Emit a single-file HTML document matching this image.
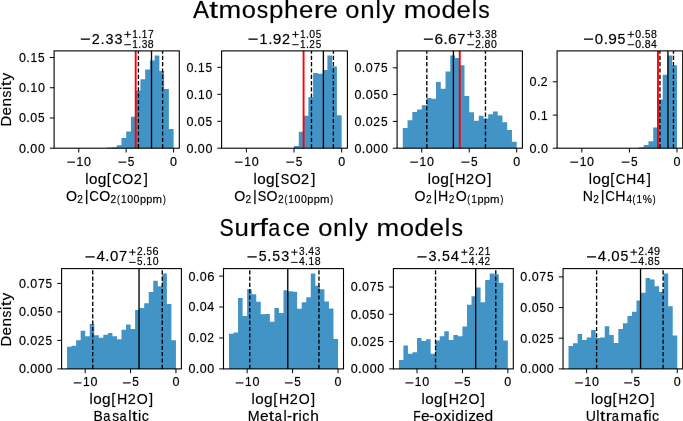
<!DOCTYPE html>
<html><head><meta charset="utf-8"><style>
html,body{margin:0;padding:0;background:#fff;}
svg{display:block;will-change:transform;}
text{font-family:"Liberation Sans",sans-serif;font-kerning:none;}
text,.g{fill:#000;stroke:#000;stroke-width:0.45px;stroke-opacity:0.4;}
</style></head><body>
<svg width="683" height="421" viewBox="0 0 683 421">
<rect width="683" height="421" fill="#fff"/>
<path d="M107.22 148.2L107.22 147.45L111.96 147.45L111.96 147.25L116.7 147.25L116.7 145.2L121.44 145.2L121.44 138L126.18 138L126.18 131.6L130.93 131.6L130.93 116.7L135.67 116.7L135.67 90.7L140.41 90.7L140.41 79.3L145.15 79.3L145.15 69.4L149.9 69.4L149.9 60.5L154.64 60.5L154.64 55.5L159.38 55.5L159.38 71.1L164.12 71.1L164.12 88.95L168.87 88.95L168.87 129L173.61 129L173.61 148.2Z" fill="#4394c6"/>
<line x1="135.67" y1="148.2" x2="135.67" y2="50.9" stroke="#ff0000" stroke-width="1.9"/>
<line x1="138.42" y1="148.2" x2="138.42" y2="50.9" stroke="#000" stroke-width="1.35" stroke-dasharray="4.2 2.1"/>
<line x1="151.51" y1="148.2" x2="151.51" y2="50.9" stroke="#000" stroke-width="1.35"/>
<line x1="162.61" y1="148.2" x2="162.61" y2="50.9" stroke="#000" stroke-width="1.35" stroke-dasharray="4.2 2.1"/>
<rect x="54.1" y="50.9" width="125.2" height="97.3" fill="none" stroke="#000" stroke-width="1.1"/>
<line x1="78.76" y1="148.2" x2="78.76" y2="152.5" stroke="#000" stroke-width="1.0"/>
<line x1="126.18" y1="148.2" x2="126.18" y2="152.5" stroke="#000" stroke-width="1.0"/>
<line x1="173.61" y1="148.2" x2="173.61" y2="152.5" stroke="#000" stroke-width="1.0"/>
<line x1="49.8" y1="148.2" x2="54.1" y2="148.2" stroke="#000" stroke-width="1.0"/>
<line x1="49.8" y1="117.97" x2="54.1" y2="117.97" stroke="#000" stroke-width="1.0"/>
<line x1="49.8" y1="87.74" x2="54.1" y2="87.74" stroke="#000" stroke-width="1.0"/>
<line x1="49.8" y1="57.5" x2="54.1" y2="57.5" stroke="#000" stroke-width="1.0"/>
<path d="M294.03 148.2L294.03 146.1L298.8 146.1L298.8 131.8L303.56 131.8L303.56 115.7L308.33 115.7L308.33 97.3L313.09 97.3L313.09 72.9L317.86 72.9L317.86 73.75L322.62 73.75L322.62 70L327.39 70L327.39 55.6L332.15 55.6L332.15 66.4L336.92 66.4L336.92 115.2L341.68 115.2L341.68 148.2Z" fill="#4394c6"/>
<line x1="303.56" y1="148.2" x2="303.56" y2="50.9" stroke="#ff0000" stroke-width="1.9"/>
<line x1="311.47" y1="148.2" x2="311.47" y2="50.9" stroke="#000" stroke-width="1.35" stroke-dasharray="4.2 2.1"/>
<line x1="323.38" y1="148.2" x2="323.38" y2="50.9" stroke="#000" stroke-width="1.35"/>
<line x1="333.39" y1="148.2" x2="333.39" y2="50.9" stroke="#000" stroke-width="1.35" stroke-dasharray="4.2 2.1"/>
<rect x="221.6" y="50.9" width="125.8" height="97.3" fill="none" stroke="#000" stroke-width="1.1"/>
<line x1="246.38" y1="148.2" x2="246.38" y2="152.5" stroke="#000" stroke-width="1.0"/>
<line x1="294.03" y1="148.2" x2="294.03" y2="152.5" stroke="#000" stroke-width="1.0"/>
<line x1="341.68" y1="148.2" x2="341.68" y2="152.5" stroke="#000" stroke-width="1.0"/>
<line x1="217.3" y1="148.2" x2="221.6" y2="148.2" stroke="#000" stroke-width="1.0"/>
<line x1="217.3" y1="121.3" x2="221.6" y2="121.3" stroke="#000" stroke-width="1.0"/>
<line x1="217.3" y1="94.3" x2="221.6" y2="94.3" stroke="#000" stroke-width="1.0"/>
<line x1="217.3" y1="67.3" x2="221.6" y2="67.3" stroke="#000" stroke-width="1.0"/>
<path d="M402.8 148.2L402.8 127.9L407.54 127.9L407.54 120.2L412.29 120.2L412.29 111.9L417.03 111.9L417.03 109.5L421.78 109.5L421.78 105.3L426.53 105.3L426.53 98.1L431.27 98.1L431.27 98.7L436.02 98.7L436.02 82.1L440.77 82.1L440.77 88.8L445.51 88.8L445.51 71.6L450.26 71.6L450.26 55.6L455 55.6L455 58.1L459.75 58.1L459.75 65.2L464.5 65.2L464.5 96.1L469.24 96.1L469.24 112.2L473.99 112.2L473.99 120.8L478.73 120.8L478.73 115.8L483.48 115.8L483.48 118.6L488.23 118.6L488.23 114.25L492.97 114.25L492.97 111.5L497.72 111.5L497.72 115.4L502.47 115.4L502.47 122.3L507.21 122.3L507.21 130L511.96 130L511.96 141.8L516.7 141.8L516.7 148.2Z" fill="#4394c6"/>
<line x1="459.75" y1="148.2" x2="459.75" y2="50.9" stroke="#ff0000" stroke-width="1.9"/>
<line x1="426.81" y1="148.2" x2="426.81" y2="50.9" stroke="#000" stroke-width="1.35" stroke-dasharray="4.2 2.1"/>
<line x1="453.39" y1="148.2" x2="453.39" y2="50.9" stroke="#000" stroke-width="1.35"/>
<line x1="485.47" y1="148.2" x2="485.47" y2="50.9" stroke="#000" stroke-width="1.35" stroke-dasharray="4.2 2.1"/>
<rect x="397.1" y="50.9" width="125.3" height="97.3" fill="none" stroke="#000" stroke-width="1.1"/>
<line x1="421.78" y1="148.2" x2="421.78" y2="152.5" stroke="#000" stroke-width="1.0"/>
<line x1="469.24" y1="148.2" x2="469.24" y2="152.5" stroke="#000" stroke-width="1.0"/>
<line x1="516.7" y1="148.2" x2="516.7" y2="152.5" stroke="#000" stroke-width="1.0"/>
<line x1="392.8" y1="148.2" x2="397.1" y2="148.2" stroke="#000" stroke-width="1.0"/>
<line x1="392.8" y1="121.4" x2="397.1" y2="121.4" stroke="#000" stroke-width="1.0"/>
<line x1="392.8" y1="94.6" x2="397.1" y2="94.6" stroke="#000" stroke-width="1.0"/>
<line x1="392.8" y1="67.8" x2="397.1" y2="67.8" stroke="#000" stroke-width="1.0"/>
<path d="M638.93 148.2L638.93 147.3L643.69 147.3L643.69 145.1L648.45 145.1L648.45 141.2L653.2 141.2L653.2 127.6L657.96 127.6L657.96 99.5L662.72 99.5L662.72 74.7L667.48 74.7L667.48 55.6L672.23 55.6L672.23 65.2L676.99 65.2L676.99 148.2Z" fill="#4394c6"/>
<line x1="657.96" y1="148.2" x2="657.96" y2="50.9" stroke="#ff0000" stroke-width="1.9"/>
<line x1="659.96" y1="148.2" x2="659.96" y2="50.9" stroke="#000" stroke-width="1.35" stroke-dasharray="4.2 2.1"/>
<line x1="667.95" y1="148.2" x2="667.95" y2="50.9" stroke="#000" stroke-width="1.35"/>
<line x1="673.47" y1="148.2" x2="673.47" y2="50.9" stroke="#000" stroke-width="1.35" stroke-dasharray="4.2 2.1"/>
<rect x="557.1" y="50.9" width="125.6" height="97.3" fill="none" stroke="#000" stroke-width="1.1"/>
<line x1="581.84" y1="148.2" x2="581.84" y2="152.5" stroke="#000" stroke-width="1.0"/>
<line x1="629.42" y1="148.2" x2="629.42" y2="152.5" stroke="#000" stroke-width="1.0"/>
<line x1="676.99" y1="148.2" x2="676.99" y2="152.5" stroke="#000" stroke-width="1.0"/>
<line x1="552.8" y1="148.2" x2="557.1" y2="148.2" stroke="#000" stroke-width="1.0"/>
<line x1="552.8" y1="115.1" x2="557.1" y2="115.1" stroke="#000" stroke-width="1.0"/>
<line x1="552.8" y1="81.8" x2="557.1" y2="81.8" stroke="#000" stroke-width="1.0"/>
<path d="M67.05 368.9L67.05 346.7L71.58 346.7L71.58 345.8L76.12 345.8L76.12 340.2L80.66 340.2L80.66 330.7L85.2 330.7L85.2 336.3L89.73 336.3L89.73 323.9L94.27 323.9L94.27 335.3L98.81 335.3L98.81 337.8L103.35 337.8L103.35 334.7L107.89 334.7L107.89 333.1L112.42 333.1L112.42 336.3L116.96 336.3L116.96 339.2L121.5 339.2L121.5 329.7L126.04 329.7L126.04 324.4L130.58 324.4L130.58 328.9L135.11 328.9L135.11 310L139.65 310L139.65 308.1L144.19 308.1L144.19 303.2L148.73 303.2L148.73 292.1L153.27 292.1L153.27 280.7L157.8 280.7L157.8 286.3L162.34 286.3L162.34 273.4L166.88 273.4L166.88 304.1L171.42 304.1L171.42 340.2L175.95 340.2L175.95 368.9Z" fill="#4394c6"/>
<line x1="92.73" y1="368.9" x2="92.73" y2="268.6" stroke="#000" stroke-width="1.35" stroke-dasharray="4.2 2.1"/>
<line x1="139.02" y1="368.9" x2="139.02" y2="268.6" stroke="#000" stroke-width="1.35"/>
<line x1="162.25" y1="368.9" x2="162.25" y2="268.6" stroke="#000" stroke-width="1.35" stroke-dasharray="4.2 2.1"/>
<rect x="61.6" y="268.6" width="119.8" height="100.3" fill="none" stroke="#000" stroke-width="1.1"/>
<line x1="85.2" y1="368.9" x2="85.2" y2="373.2" stroke="#000" stroke-width="1.0"/>
<line x1="130.58" y1="368.9" x2="130.58" y2="373.2" stroke="#000" stroke-width="1.0"/>
<line x1="175.95" y1="368.9" x2="175.95" y2="373.2" stroke="#000" stroke-width="1.0"/>
<line x1="57.3" y1="368.9" x2="61.6" y2="368.9" stroke="#000" stroke-width="1.0"/>
<line x1="57.3" y1="340.4" x2="61.6" y2="340.4" stroke="#000" stroke-width="1.0"/>
<line x1="57.3" y1="311.9" x2="61.6" y2="311.9" stroke="#000" stroke-width="1.0"/>
<line x1="57.3" y1="283.4" x2="61.6" y2="283.4" stroke="#000" stroke-width="1.0"/>
<path d="M228.95 368.9L228.95 333.8L233.5 333.8L233.5 332.6L238.05 332.6L238.05 297.9L242.59 297.9L242.59 315.9L247.14 315.9L247.14 289.2L251.68 289.2L251.68 294.2L256.23 294.2L256.23 301.7L260.77 301.7L260.77 314.3L265.32 314.3L265.32 313.9L269.86 313.9L269.86 321.7L274.41 321.7L274.41 308.1L278.95 308.1L278.95 313.1L283.5 313.1L283.5 290.2L288.05 290.2L288.05 291.2L292.59 291.2L292.59 291.8L297.14 291.8L297.14 308.8L301.68 308.8L301.68 302.2L306.23 302.2L306.23 297.3L310.77 297.3L310.77 273.5L315.32 273.5L315.32 285.7L319.86 285.7L319.86 289.2L324.41 289.2L324.41 301.6L328.95 301.6L328.95 308.4L333.5 308.4L333.5 339L338.05 339L338.05 368.9Z" fill="#4394c6"/>
<line x1="249.77" y1="368.9" x2="249.77" y2="268.6" stroke="#000" stroke-width="1.35" stroke-dasharray="4.2 2.1"/>
<line x1="287.77" y1="368.9" x2="287.77" y2="268.6" stroke="#000" stroke-width="1.35"/>
<line x1="318.95" y1="368.9" x2="318.95" y2="268.6" stroke="#000" stroke-width="1.35" stroke-dasharray="4.2 2.1"/>
<rect x="223.5" y="268.6" width="120" height="100.3" fill="none" stroke="#000" stroke-width="1.1"/>
<line x1="247.14" y1="368.9" x2="247.14" y2="373.2" stroke="#000" stroke-width="1.0"/>
<line x1="292.59" y1="368.9" x2="292.59" y2="373.2" stroke="#000" stroke-width="1.0"/>
<line x1="338.05" y1="368.9" x2="338.05" y2="373.2" stroke="#000" stroke-width="1.0"/>
<line x1="219.2" y1="368.9" x2="223.5" y2="368.9" stroke="#000" stroke-width="1.0"/>
<line x1="219.2" y1="337.97" x2="223.5" y2="337.97" stroke="#000" stroke-width="1.0"/>
<line x1="219.2" y1="307" x2="223.5" y2="307" stroke="#000" stroke-width="1.0"/>
<line x1="219.2" y1="276.1" x2="223.5" y2="276.1" stroke="#000" stroke-width="1.0"/>
<path d="M398.85 368.9L398.85 360L403.39 360L403.39 345.4L407.93 345.4L407.93 353.8L412.47 353.8L412.47 352.3L417.02 352.3L417.02 338L421.56 338L421.56 340.9L426.1 340.9L426.1 339.2L430.64 339.2L430.64 353.8L435.18 353.8L435.18 340.5L439.72 340.5L439.72 336.3L444.27 336.3L444.27 331.3L448.81 331.3L448.81 340L453.35 340L453.35 335L457.89 335L457.89 336.3L462.43 336.3L462.43 326.4L466.97 326.4L466.97 304.7L471.52 304.7L471.52 296.2L476.06 296.2L476.06 287.5L480.6 287.5L480.6 302.2L485.14 302.2L485.14 280L489.68 280L489.68 273.5L494.22 273.5L494.22 274.2L498.77 274.2L498.77 282.8L503.31 282.8L503.31 340.6L507.85 340.6L507.85 368.9Z" fill="#4394c6"/>
<line x1="435.55" y1="368.9" x2="435.55" y2="268.6" stroke="#000" stroke-width="1.35" stroke-dasharray="4.2 2.1"/>
<line x1="475.69" y1="368.9" x2="475.69" y2="268.6" stroke="#000" stroke-width="1.35"/>
<line x1="495.77" y1="368.9" x2="495.77" y2="268.6" stroke="#000" stroke-width="1.35" stroke-dasharray="4.2 2.1"/>
<rect x="393.4" y="268.6" width="119.9" height="100.3" fill="none" stroke="#000" stroke-width="1.1"/>
<line x1="417.02" y1="368.9" x2="417.02" y2="373.2" stroke="#000" stroke-width="1.0"/>
<line x1="462.43" y1="368.9" x2="462.43" y2="373.2" stroke="#000" stroke-width="1.0"/>
<line x1="507.85" y1="368.9" x2="507.85" y2="373.2" stroke="#000" stroke-width="1.0"/>
<line x1="389.1" y1="368.9" x2="393.4" y2="368.9" stroke="#000" stroke-width="1.0"/>
<line x1="389.1" y1="341.6" x2="393.4" y2="341.6" stroke="#000" stroke-width="1.0"/>
<line x1="389.1" y1="314.3" x2="393.4" y2="314.3" stroke="#000" stroke-width="1.0"/>
<line x1="389.1" y1="287" x2="393.4" y2="287" stroke="#000" stroke-width="1.0"/>
<path d="M568.49 368.9L568.49 346L573.02 346L573.02 343.3L577.55 343.3L577.55 334.1L582.09 334.1L582.09 340L586.62 340L586.62 337.4L591.15 337.4L591.15 330.1L595.68 330.1L595.68 338L600.21 338L600.21 337.5L604.75 337.5L604.75 326.3L609.28 326.3L609.28 334.9L613.81 334.9L613.81 343.1L618.34 343.1L618.34 329.1L622.88 329.1L622.88 323.2L627.41 323.2L627.41 315.9L631.94 315.9L631.94 311.8L636.47 311.8L636.47 300.4L641 300.4L641 292.7L645.54 292.7L645.54 277.9L650.07 277.9L650.07 279.4L654.6 279.4L654.6 286.3L659.13 286.3L659.13 292.1L663.66 292.1L663.66 273.5L668.2 273.5L668.2 306.3L672.73 306.3L672.73 335.5L677.26 335.5L677.26 368.9Z" fill="#4394c6"/>
<line x1="596.59" y1="368.9" x2="596.59" y2="268.6" stroke="#000" stroke-width="1.35" stroke-dasharray="4.2 2.1"/>
<line x1="640.55" y1="368.9" x2="640.55" y2="268.6" stroke="#000" stroke-width="1.35"/>
<line x1="663.12" y1="368.9" x2="663.12" y2="268.6" stroke="#000" stroke-width="1.35" stroke-dasharray="4.2 2.1"/>
<rect x="563.05" y="268.6" width="119.65" height="100.3" fill="none" stroke="#000" stroke-width="1.1"/>
<line x1="586.62" y1="368.9" x2="586.62" y2="373.2" stroke="#000" stroke-width="1.0"/>
<line x1="631.94" y1="368.9" x2="631.94" y2="373.2" stroke="#000" stroke-width="1.0"/>
<line x1="677.26" y1="368.9" x2="677.26" y2="373.2" stroke="#000" stroke-width="1.0"/>
<line x1="558.75" y1="368.9" x2="563.05" y2="368.9" stroke="#000" stroke-width="1.0"/>
<line x1="558.75" y1="338.2" x2="563.05" y2="338.2" stroke="#000" stroke-width="1.0"/>
<line x1="558.75" y1="307.6" x2="563.05" y2="307.6" stroke="#000" stroke-width="1.0"/>
<line x1="558.75" y1="276.9" x2="563.05" y2="276.9" stroke="#000" stroke-width="1.0"/>
<rect class="g" x="67.47" y="161.72" width="7.45" height="0.93"/>
<text x="76.57" y="165.7" font-size="11.87" textLength="6.66" lengthAdjust="spacingAndGlyphs">1</text>
<text x="84.04" y="165.7" font-size="11.87" textLength="6.98" lengthAdjust="spacingAndGlyphs">0</text>
<rect class="g" x="118.68" y="161.72" width="7.45" height="0.93"/>
<text x="127.83" y="165.7" font-size="11.87" textLength="6.59" lengthAdjust="spacingAndGlyphs">5</text>
<text x="170.12" y="165.7" font-size="11.87" textLength="6.98" lengthAdjust="spacingAndGlyphs">0</text>
<text x="19" y="152.65" font-size="11.87" textLength="6.98" lengthAdjust="spacingAndGlyphs">0</text>
<text x="26.39" y="152.65" font-size="11.87" textLength="3.55" lengthAdjust="spacingAndGlyphs">.</text>
<text x="30.35" y="152.65" font-size="11.87" textLength="6.98" lengthAdjust="spacingAndGlyphs">0</text>
<text x="37.92" y="152.65" font-size="11.87" textLength="6.98" lengthAdjust="spacingAndGlyphs">0</text>
<text x="19" y="122.42" font-size="11.87" textLength="6.98" lengthAdjust="spacingAndGlyphs">0</text>
<text x="26.39" y="122.42" font-size="11.87" textLength="3.55" lengthAdjust="spacingAndGlyphs">.</text>
<text x="30.35" y="122.42" font-size="11.87" textLength="6.98" lengthAdjust="spacingAndGlyphs">0</text>
<text x="38.07" y="122.42" font-size="11.87" textLength="6.59" lengthAdjust="spacingAndGlyphs">5</text>
<text x="19" y="92.19" font-size="11.87" textLength="6.98" lengthAdjust="spacingAndGlyphs">0</text>
<text x="26.39" y="92.19" font-size="11.87" textLength="3.55" lengthAdjust="spacingAndGlyphs">.</text>
<text x="30.46" y="92.19" font-size="11.87" textLength="6.66" lengthAdjust="spacingAndGlyphs">1</text>
<text x="37.92" y="92.19" font-size="11.87" textLength="6.98" lengthAdjust="spacingAndGlyphs">0</text>
<text x="19" y="61.95" font-size="11.87" textLength="6.98" lengthAdjust="spacingAndGlyphs">0</text>
<text x="26.39" y="61.95" font-size="11.87" textLength="3.55" lengthAdjust="spacingAndGlyphs">.</text>
<text x="30.46" y="61.95" font-size="11.87" textLength="6.66" lengthAdjust="spacingAndGlyphs">1</text>
<text x="38.07" y="61.95" font-size="11.87" textLength="6.59" lengthAdjust="spacingAndGlyphs">5</text>
<text x="85.22" y="183.75" font-size="14.31" textLength="3.25" lengthAdjust="spacingAndGlyphs">l</text>
<text x="88.97" y="183.75" font-size="14.31" textLength="8.46" lengthAdjust="spacingAndGlyphs">o</text>
<text x="97.71" y="183.75" font-size="14.31" textLength="8.64" lengthAdjust="spacingAndGlyphs">g</text>
<text x="106.82" y="183.75" font-size="14.31" textLength="4.13" lengthAdjust="spacingAndGlyphs">[</text>
<text x="112.35" y="183.75" font-size="14.31" textLength="9.59" lengthAdjust="spacingAndGlyphs">C</text>
<text x="122.35" y="183.75" font-size="14.31" textLength="10.99" lengthAdjust="spacingAndGlyphs">O</text>
<text x="133.79" y="183.75" font-size="14.31" textLength="8.08" lengthAdjust="spacingAndGlyphs">2</text>
<text x="143.84" y="183.75" font-size="14.31" textLength="4.13" lengthAdjust="spacingAndGlyphs">]</text>
<text x="65.96" y="200.5" font-size="15" textLength="10.99" lengthAdjust="spacingAndGlyphs">O</text>
<text x="77.31" y="202.5" font-size="10.5" textLength="5.65" lengthAdjust="spacingAndGlyphs">2</text>
<text x="84.82" y="200.5" font-size="15" textLength="3.81" lengthAdjust="spacingAndGlyphs">|</text>
<text x="89.25" y="200.5" font-size="15" textLength="9.59" lengthAdjust="spacingAndGlyphs">C</text>
<text x="99.25" y="200.5" font-size="15" textLength="10.99" lengthAdjust="spacingAndGlyphs">O</text>
<text x="110.59" y="202.5" font-size="10.5" textLength="5.65" lengthAdjust="spacingAndGlyphs">2</text>
<text x="117.07" y="202.5" font-size="10.5" textLength="2.82" lengthAdjust="spacingAndGlyphs">(</text>
<text x="120.98" y="202.5" font-size="10.5" textLength="5.61" lengthAdjust="spacingAndGlyphs">1</text>
<text x="127.26" y="202.5" font-size="10.5" textLength="5.87" lengthAdjust="spacingAndGlyphs">0</text>
<text x="133.63" y="202.5" font-size="10.5" textLength="5.87" lengthAdjust="spacingAndGlyphs">0</text>
<text x="139.96" y="202.5" font-size="10.5" textLength="6.05" lengthAdjust="spacingAndGlyphs">p</text>
<text x="146.32" y="202.5" font-size="10.5" textLength="6.05" lengthAdjust="spacingAndGlyphs">p</text>
<text x="152.62" y="202.5" font-size="10.5" textLength="9.49" lengthAdjust="spacingAndGlyphs">m</text>
<text x="162.96" y="202.5" font-size="10.5" textLength="2.82" lengthAdjust="spacingAndGlyphs">)</text>
<rect class="g" x="80.92" y="38.6" width="8.89" height="1.15"/>
<text x="91.63" y="43.5" font-size="14.63" textLength="8.02" lengthAdjust="spacingAndGlyphs">2</text>
<text x="100.48" y="43.5" font-size="14.63" textLength="4.23" lengthAdjust="spacingAndGlyphs">.</text>
<text x="105.39" y="43.5" font-size="14.63" textLength="8" lengthAdjust="spacingAndGlyphs">3</text>
<text x="114.43" y="43.5" font-size="14.63" textLength="8" lengthAdjust="spacingAndGlyphs">3</text>
<rect class="g" x="124.58" y="34.09" width="6.22" height="0.8"/>
<rect class="g" x="127.28" y="31.48" width="0.83" height="6.02"/>
<text x="132.19" y="37.5" font-size="10.2" textLength="5.57" lengthAdjust="spacingAndGlyphs">1</text>
<text x="138.27" y="37.5" font-size="10.2" textLength="2.96" lengthAdjust="spacingAndGlyphs">.</text>
<text x="141.67" y="37.5" font-size="10.2" textLength="5.57" lengthAdjust="spacingAndGlyphs">1</text>
<text x="147.96" y="37.5" font-size="10.2" textLength="5.7" lengthAdjust="spacingAndGlyphs">7</text>
<rect class="g" x="124.58" y="44.29" width="6.22" height="0.8"/>
<text x="132.19" y="47.7" font-size="10.2" textLength="5.57" lengthAdjust="spacingAndGlyphs">1</text>
<text x="138.27" y="47.7" font-size="10.2" textLength="2.96" lengthAdjust="spacingAndGlyphs">.</text>
<text x="141.71" y="47.7" font-size="10.2" textLength="5.6" lengthAdjust="spacingAndGlyphs">3</text>
<text x="147.89" y="47.7" font-size="10.2" textLength="5.88" lengthAdjust="spacingAndGlyphs">8</text>
<rect class="g" x="235.08" y="161.72" width="7.45" height="0.93"/>
<text x="244.19" y="165.7" font-size="11.87" textLength="6.66" lengthAdjust="spacingAndGlyphs">1</text>
<text x="251.66" y="165.7" font-size="11.87" textLength="6.98" lengthAdjust="spacingAndGlyphs">0</text>
<rect class="g" x="286.52" y="161.72" width="7.45" height="0.93"/>
<text x="295.67" y="165.7" font-size="11.87" textLength="6.59" lengthAdjust="spacingAndGlyphs">5</text>
<text x="338.19" y="165.7" font-size="11.87" textLength="6.98" lengthAdjust="spacingAndGlyphs">0</text>
<text x="186.5" y="152.65" font-size="11.87" textLength="6.98" lengthAdjust="spacingAndGlyphs">0</text>
<text x="193.89" y="152.65" font-size="11.87" textLength="3.55" lengthAdjust="spacingAndGlyphs">.</text>
<text x="197.85" y="152.65" font-size="11.87" textLength="6.98" lengthAdjust="spacingAndGlyphs">0</text>
<text x="205.42" y="152.65" font-size="11.87" textLength="6.98" lengthAdjust="spacingAndGlyphs">0</text>
<text x="186.5" y="125.75" font-size="11.87" textLength="6.98" lengthAdjust="spacingAndGlyphs">0</text>
<text x="193.89" y="125.75" font-size="11.87" textLength="3.55" lengthAdjust="spacingAndGlyphs">.</text>
<text x="197.85" y="125.75" font-size="11.87" textLength="6.98" lengthAdjust="spacingAndGlyphs">0</text>
<text x="205.57" y="125.75" font-size="11.87" textLength="6.59" lengthAdjust="spacingAndGlyphs">5</text>
<text x="186.5" y="98.75" font-size="11.87" textLength="6.98" lengthAdjust="spacingAndGlyphs">0</text>
<text x="193.89" y="98.75" font-size="11.87" textLength="3.55" lengthAdjust="spacingAndGlyphs">.</text>
<text x="197.96" y="98.75" font-size="11.87" textLength="6.66" lengthAdjust="spacingAndGlyphs">1</text>
<text x="205.42" y="98.75" font-size="11.87" textLength="6.98" lengthAdjust="spacingAndGlyphs">0</text>
<text x="186.5" y="71.75" font-size="11.87" textLength="6.98" lengthAdjust="spacingAndGlyphs">0</text>
<text x="193.89" y="71.75" font-size="11.87" textLength="3.55" lengthAdjust="spacingAndGlyphs">.</text>
<text x="197.96" y="71.75" font-size="11.87" textLength="6.66" lengthAdjust="spacingAndGlyphs">1</text>
<text x="205.57" y="71.75" font-size="11.87" textLength="6.59" lengthAdjust="spacingAndGlyphs">5</text>
<text x="253.47" y="183.75" font-size="14.31" textLength="3.25" lengthAdjust="spacingAndGlyphs">l</text>
<text x="257.23" y="183.75" font-size="14.31" textLength="8.46" lengthAdjust="spacingAndGlyphs">o</text>
<text x="265.96" y="183.75" font-size="14.31" textLength="8.64" lengthAdjust="spacingAndGlyphs">g</text>
<text x="275.08" y="183.75" font-size="14.31" textLength="4.13" lengthAdjust="spacingAndGlyphs">[</text>
<text x="280.84" y="183.75" font-size="14.31" textLength="8.51" lengthAdjust="spacingAndGlyphs">S</text>
<text x="289.7" y="183.75" font-size="14.31" textLength="10.99" lengthAdjust="spacingAndGlyphs">O</text>
<text x="301.13" y="183.75" font-size="14.31" textLength="8.08" lengthAdjust="spacingAndGlyphs">2</text>
<text x="311.18" y="183.75" font-size="14.31" textLength="4.13" lengthAdjust="spacingAndGlyphs">]</text>
<text x="234.22" y="200.5" font-size="15" textLength="10.99" lengthAdjust="spacingAndGlyphs">O</text>
<text x="245.56" y="202.5" font-size="10.5" textLength="5.65" lengthAdjust="spacingAndGlyphs">2</text>
<text x="253.08" y="200.5" font-size="15" textLength="3.81" lengthAdjust="spacingAndGlyphs">|</text>
<text x="257.74" y="200.5" font-size="15" textLength="8.51" lengthAdjust="spacingAndGlyphs">S</text>
<text x="266.6" y="200.5" font-size="15" textLength="10.99" lengthAdjust="spacingAndGlyphs">O</text>
<text x="277.94" y="202.5" font-size="10.5" textLength="5.65" lengthAdjust="spacingAndGlyphs">2</text>
<text x="284.42" y="202.5" font-size="10.5" textLength="2.82" lengthAdjust="spacingAndGlyphs">(</text>
<text x="288.32" y="202.5" font-size="10.5" textLength="5.61" lengthAdjust="spacingAndGlyphs">1</text>
<text x="294.61" y="202.5" font-size="10.5" textLength="5.87" lengthAdjust="spacingAndGlyphs">0</text>
<text x="300.98" y="202.5" font-size="10.5" textLength="5.87" lengthAdjust="spacingAndGlyphs">0</text>
<text x="307.31" y="202.5" font-size="10.5" textLength="6.05" lengthAdjust="spacingAndGlyphs">p</text>
<text x="313.66" y="202.5" font-size="10.5" textLength="6.05" lengthAdjust="spacingAndGlyphs">p</text>
<text x="319.96" y="202.5" font-size="10.5" textLength="9.49" lengthAdjust="spacingAndGlyphs">m</text>
<text x="330.3" y="202.5" font-size="10.5" textLength="2.82" lengthAdjust="spacingAndGlyphs">)</text>
<rect class="g" x="248.72" y="38.6" width="8.89" height="1.15"/>
<text x="259.59" y="43.5" font-size="14.63" textLength="7.95" lengthAdjust="spacingAndGlyphs">1</text>
<text x="268.28" y="43.5" font-size="14.63" textLength="4.23" lengthAdjust="spacingAndGlyphs">.</text>
<text x="272.83" y="43.5" font-size="14.63" textLength="8.6" lengthAdjust="spacingAndGlyphs">9</text>
<text x="282.01" y="43.5" font-size="14.63" textLength="8.02" lengthAdjust="spacingAndGlyphs">2</text>
<rect class="g" x="292.38" y="34.09" width="6.22" height="0.8"/>
<rect class="g" x="295.08" y="31.48" width="0.83" height="6.02"/>
<text x="299.99" y="37.5" font-size="10.2" textLength="5.57" lengthAdjust="spacingAndGlyphs">1</text>
<text x="306.07" y="37.5" font-size="10.2" textLength="2.96" lengthAdjust="spacingAndGlyphs">.</text>
<text x="309.39" y="37.5" font-size="10.2" textLength="5.83" lengthAdjust="spacingAndGlyphs">0</text>
<text x="315.83" y="37.5" font-size="10.2" textLength="5.5" lengthAdjust="spacingAndGlyphs">5</text>
<rect class="g" x="292.38" y="44.29" width="6.22" height="0.8"/>
<text x="299.99" y="47.7" font-size="10.2" textLength="5.57" lengthAdjust="spacingAndGlyphs">1</text>
<text x="306.07" y="47.7" font-size="10.2" textLength="2.96" lengthAdjust="spacingAndGlyphs">.</text>
<text x="309.36" y="47.7" font-size="10.2" textLength="5.61" lengthAdjust="spacingAndGlyphs">2</text>
<text x="315.83" y="47.7" font-size="10.2" textLength="5.5" lengthAdjust="spacingAndGlyphs">5</text>
<rect class="g" x="410.49" y="161.72" width="7.45" height="0.93"/>
<text x="419.59" y="165.7" font-size="11.87" textLength="6.66" lengthAdjust="spacingAndGlyphs">1</text>
<text x="427.06" y="165.7" font-size="11.87" textLength="6.98" lengthAdjust="spacingAndGlyphs">0</text>
<rect class="g" x="461.73" y="161.72" width="7.45" height="0.93"/>
<text x="470.88" y="165.7" font-size="11.87" textLength="6.59" lengthAdjust="spacingAndGlyphs">5</text>
<text x="513.22" y="165.7" font-size="11.87" textLength="6.98" lengthAdjust="spacingAndGlyphs">0</text>
<text x="354.43" y="152.65" font-size="11.87" textLength="6.98" lengthAdjust="spacingAndGlyphs">0</text>
<text x="361.82" y="152.65" font-size="11.87" textLength="3.55" lengthAdjust="spacingAndGlyphs">.</text>
<text x="365.78" y="152.65" font-size="11.87" textLength="6.98" lengthAdjust="spacingAndGlyphs">0</text>
<text x="373.35" y="152.65" font-size="11.87" textLength="6.98" lengthAdjust="spacingAndGlyphs">0</text>
<text x="380.92" y="152.65" font-size="11.87" textLength="6.98" lengthAdjust="spacingAndGlyphs">0</text>
<text x="354.43" y="125.85" font-size="11.87" textLength="6.98" lengthAdjust="spacingAndGlyphs">0</text>
<text x="361.82" y="125.85" font-size="11.87" textLength="3.55" lengthAdjust="spacingAndGlyphs">.</text>
<text x="365.78" y="125.85" font-size="11.87" textLength="6.98" lengthAdjust="spacingAndGlyphs">0</text>
<text x="373.32" y="125.85" font-size="11.87" textLength="6.72" lengthAdjust="spacingAndGlyphs">2</text>
<text x="381.07" y="125.85" font-size="11.87" textLength="6.59" lengthAdjust="spacingAndGlyphs">5</text>
<text x="354.43" y="99.05" font-size="11.87" textLength="6.98" lengthAdjust="spacingAndGlyphs">0</text>
<text x="361.82" y="99.05" font-size="11.87" textLength="3.55" lengthAdjust="spacingAndGlyphs">.</text>
<text x="365.78" y="99.05" font-size="11.87" textLength="6.98" lengthAdjust="spacingAndGlyphs">0</text>
<text x="373.5" y="99.05" font-size="11.87" textLength="6.59" lengthAdjust="spacingAndGlyphs">5</text>
<text x="380.92" y="99.05" font-size="11.87" textLength="6.98" lengthAdjust="spacingAndGlyphs">0</text>
<text x="354.43" y="72.25" font-size="11.87" textLength="6.98" lengthAdjust="spacingAndGlyphs">0</text>
<text x="361.82" y="72.25" font-size="11.87" textLength="3.55" lengthAdjust="spacingAndGlyphs">.</text>
<text x="365.78" y="72.25" font-size="11.87" textLength="6.98" lengthAdjust="spacingAndGlyphs">0</text>
<text x="373.41" y="72.25" font-size="11.87" textLength="6.82" lengthAdjust="spacingAndGlyphs">7</text>
<text x="381.07" y="72.25" font-size="11.87" textLength="6.59" lengthAdjust="spacingAndGlyphs">5</text>
<text x="427.88" y="183.75" font-size="14.31" textLength="3.25" lengthAdjust="spacingAndGlyphs">l</text>
<text x="431.64" y="183.75" font-size="14.31" textLength="8.46" lengthAdjust="spacingAndGlyphs">o</text>
<text x="440.37" y="183.75" font-size="14.31" textLength="8.64" lengthAdjust="spacingAndGlyphs">g</text>
<text x="449.49" y="183.75" font-size="14.31" textLength="4.13" lengthAdjust="spacingAndGlyphs">[</text>
<text x="455.13" y="183.75" font-size="14.31" textLength="10.27" lengthAdjust="spacingAndGlyphs">H</text>
<text x="465.97" y="183.75" font-size="14.31" textLength="8.08" lengthAdjust="spacingAndGlyphs">2</text>
<text x="474.88" y="183.75" font-size="14.31" textLength="10.99" lengthAdjust="spacingAndGlyphs">O</text>
<text x="487.27" y="183.75" font-size="14.31" textLength="4.13" lengthAdjust="spacingAndGlyphs">]</text>
<text x="414.57" y="200.5" font-size="15" textLength="10.99" lengthAdjust="spacingAndGlyphs">O</text>
<text x="425.91" y="202.5" font-size="10.5" textLength="5.65" lengthAdjust="spacingAndGlyphs">2</text>
<text x="433.43" y="200.5" font-size="15" textLength="3.81" lengthAdjust="spacingAndGlyphs">|</text>
<text x="437.97" y="200.5" font-size="15" textLength="10.27" lengthAdjust="spacingAndGlyphs">H</text>
<text x="448.71" y="202.5" font-size="10.5" textLength="5.65" lengthAdjust="spacingAndGlyphs">2</text>
<text x="455.85" y="200.5" font-size="15" textLength="10.99" lengthAdjust="spacingAndGlyphs">O</text>
<text x="467.31" y="202.5" font-size="10.5" textLength="2.82" lengthAdjust="spacingAndGlyphs">(</text>
<text x="471.21" y="202.5" font-size="10.5" textLength="5.61" lengthAdjust="spacingAndGlyphs">1</text>
<text x="477.46" y="202.5" font-size="10.5" textLength="6.05" lengthAdjust="spacingAndGlyphs">p</text>
<text x="483.81" y="202.5" font-size="10.5" textLength="6.05" lengthAdjust="spacingAndGlyphs">p</text>
<text x="490.11" y="202.5" font-size="10.5" textLength="9.49" lengthAdjust="spacingAndGlyphs">m</text>
<text x="500.45" y="202.5" font-size="10.5" textLength="2.82" lengthAdjust="spacingAndGlyphs">)</text>
<rect class="g" x="423.97" y="38.6" width="8.89" height="1.15"/>
<text x="434.56" y="43.5" font-size="14.63" textLength="8.62" lengthAdjust="spacingAndGlyphs">6</text>
<text x="443.53" y="43.5" font-size="14.63" textLength="4.23" lengthAdjust="spacingAndGlyphs">.</text>
<text x="448.11" y="43.5" font-size="14.63" textLength="8.62" lengthAdjust="spacingAndGlyphs">6</text>
<text x="457.36" y="43.5" font-size="14.63" textLength="8.14" lengthAdjust="spacingAndGlyphs">7</text>
<rect class="g" x="467.63" y="34.09" width="6.22" height="0.8"/>
<rect class="g" x="470.33" y="31.48" width="0.83" height="6.02"/>
<text x="475.28" y="37.5" font-size="10.2" textLength="5.6" lengthAdjust="spacingAndGlyphs">3</text>
<text x="481.32" y="37.5" font-size="10.2" textLength="2.96" lengthAdjust="spacingAndGlyphs">.</text>
<text x="484.76" y="37.5" font-size="10.2" textLength="5.6" lengthAdjust="spacingAndGlyphs">3</text>
<text x="490.94" y="37.5" font-size="10.2" textLength="5.88" lengthAdjust="spacingAndGlyphs">8</text>
<rect class="g" x="467.63" y="44.29" width="6.22" height="0.8"/>
<text x="475.13" y="47.7" font-size="10.2" textLength="5.61" lengthAdjust="spacingAndGlyphs">2</text>
<text x="481.32" y="47.7" font-size="10.2" textLength="2.96" lengthAdjust="spacingAndGlyphs">.</text>
<text x="484.61" y="47.7" font-size="10.2" textLength="5.88" lengthAdjust="spacingAndGlyphs">8</text>
<text x="490.96" y="47.7" font-size="10.2" textLength="5.83" lengthAdjust="spacingAndGlyphs">0</text>
<rect class="g" x="570.54" y="161.72" width="7.45" height="0.93"/>
<text x="579.65" y="165.7" font-size="11.87" textLength="6.66" lengthAdjust="spacingAndGlyphs">1</text>
<text x="587.12" y="165.7" font-size="11.87" textLength="6.98" lengthAdjust="spacingAndGlyphs">0</text>
<rect class="g" x="621.91" y="161.72" width="7.45" height="0.93"/>
<text x="631.06" y="165.7" font-size="11.87" textLength="6.59" lengthAdjust="spacingAndGlyphs">5</text>
<text x="673.5" y="165.7" font-size="11.87" textLength="6.98" lengthAdjust="spacingAndGlyphs">0</text>
<text x="529.57" y="152.65" font-size="11.87" textLength="6.98" lengthAdjust="spacingAndGlyphs">0</text>
<text x="536.96" y="152.65" font-size="11.87" textLength="3.55" lengthAdjust="spacingAndGlyphs">.</text>
<text x="540.92" y="152.65" font-size="11.87" textLength="6.98" lengthAdjust="spacingAndGlyphs">0</text>
<text x="529.57" y="119.55" font-size="11.87" textLength="6.98" lengthAdjust="spacingAndGlyphs">0</text>
<text x="536.96" y="119.55" font-size="11.87" textLength="3.55" lengthAdjust="spacingAndGlyphs">.</text>
<text x="541.03" y="119.55" font-size="11.87" textLength="6.66" lengthAdjust="spacingAndGlyphs">1</text>
<text x="529.57" y="86.25" font-size="11.87" textLength="6.98" lengthAdjust="spacingAndGlyphs">0</text>
<text x="536.96" y="86.25" font-size="11.87" textLength="3.55" lengthAdjust="spacingAndGlyphs">.</text>
<text x="540.89" y="86.25" font-size="11.87" textLength="6.72" lengthAdjust="spacingAndGlyphs">2</text>
<text x="588.67" y="183.75" font-size="14.31" textLength="3.25" lengthAdjust="spacingAndGlyphs">l</text>
<text x="592.42" y="183.75" font-size="14.31" textLength="8.46" lengthAdjust="spacingAndGlyphs">o</text>
<text x="601.16" y="183.75" font-size="14.31" textLength="8.64" lengthAdjust="spacingAndGlyphs">g</text>
<text x="610.28" y="183.75" font-size="14.31" textLength="4.13" lengthAdjust="spacingAndGlyphs">[</text>
<text x="615.8" y="183.75" font-size="14.31" textLength="9.59" lengthAdjust="spacingAndGlyphs">C</text>
<text x="625.9" y="183.75" font-size="14.31" textLength="10.27" lengthAdjust="spacingAndGlyphs">H</text>
<text x="636.77" y="183.75" font-size="14.31" textLength="8.38" lengthAdjust="spacingAndGlyphs">4</text>
<text x="646.79" y="183.75" font-size="14.31" textLength="4.13" lengthAdjust="spacingAndGlyphs">]</text>
<text x="582.64" y="200.5" font-size="15" textLength="10.2" lengthAdjust="spacingAndGlyphs">N</text>
<text x="593.32" y="202.5" font-size="10.5" textLength="5.65" lengthAdjust="spacingAndGlyphs">2</text>
<text x="600.84" y="200.5" font-size="15" textLength="3.81" lengthAdjust="spacingAndGlyphs">|</text>
<text x="605.27" y="200.5" font-size="15" textLength="9.59" lengthAdjust="spacingAndGlyphs">C</text>
<text x="615.36" y="200.5" font-size="15" textLength="10.27" lengthAdjust="spacingAndGlyphs">H</text>
<text x="626.13" y="202.5" font-size="10.5" textLength="5.87" lengthAdjust="spacingAndGlyphs">4</text>
<text x="632.59" y="202.5" font-size="10.5" textLength="2.82" lengthAdjust="spacingAndGlyphs">(</text>
<text x="636.49" y="202.5" font-size="10.5" textLength="5.61" lengthAdjust="spacingAndGlyphs">1</text>
<text x="642.7" y="202.5" font-size="10.5" textLength="9.14" lengthAdjust="spacingAndGlyphs">%</text>
<text x="652.79" y="202.5" font-size="10.5" textLength="2.82" lengthAdjust="spacingAndGlyphs">)</text>
<rect class="g" x="584.12" y="38.6" width="8.89" height="1.15"/>
<text x="594.86" y="43.5" font-size="14.63" textLength="8.33" lengthAdjust="spacingAndGlyphs">0</text>
<text x="603.68" y="43.5" font-size="14.63" textLength="4.23" lengthAdjust="spacingAndGlyphs">.</text>
<text x="608.23" y="43.5" font-size="14.63" textLength="8.6" lengthAdjust="spacingAndGlyphs">9</text>
<text x="617.62" y="43.5" font-size="14.63" textLength="7.86" lengthAdjust="spacingAndGlyphs">5</text>
<rect class="g" x="627.78" y="34.09" width="6.22" height="0.8"/>
<rect class="g" x="630.48" y="31.48" width="0.83" height="6.02"/>
<text x="635.3" y="37.5" font-size="10.2" textLength="5.83" lengthAdjust="spacingAndGlyphs">0</text>
<text x="641.47" y="37.5" font-size="10.2" textLength="2.96" lengthAdjust="spacingAndGlyphs">.</text>
<text x="644.91" y="37.5" font-size="10.2" textLength="5.5" lengthAdjust="spacingAndGlyphs">5</text>
<text x="651.09" y="37.5" font-size="10.2" textLength="5.88" lengthAdjust="spacingAndGlyphs">8</text>
<rect class="g" x="627.78" y="44.29" width="6.22" height="0.8"/>
<text x="635.3" y="47.7" font-size="10.2" textLength="5.83" lengthAdjust="spacingAndGlyphs">0</text>
<text x="641.47" y="47.7" font-size="10.2" textLength="2.96" lengthAdjust="spacingAndGlyphs">.</text>
<text x="644.76" y="47.7" font-size="10.2" textLength="5.88" lengthAdjust="spacingAndGlyphs">8</text>
<text x="651.11" y="47.7" font-size="10.2" textLength="5.82" lengthAdjust="spacingAndGlyphs">4</text>
<rect class="g" x="73.9" y="382.42" width="7.45" height="0.93"/>
<text x="83.01" y="386.4" font-size="11.87" textLength="6.66" lengthAdjust="spacingAndGlyphs">1</text>
<text x="90.48" y="386.4" font-size="11.87" textLength="6.98" lengthAdjust="spacingAndGlyphs">0</text>
<rect class="g" x="123.07" y="382.42" width="7.45" height="0.93"/>
<text x="132.22" y="386.4" font-size="11.87" textLength="6.59" lengthAdjust="spacingAndGlyphs">5</text>
<text x="172.47" y="386.4" font-size="11.87" textLength="6.98" lengthAdjust="spacingAndGlyphs">0</text>
<text x="18.93" y="373.35" font-size="11.87" textLength="6.98" lengthAdjust="spacingAndGlyphs">0</text>
<text x="26.32" y="373.35" font-size="11.87" textLength="3.55" lengthAdjust="spacingAndGlyphs">.</text>
<text x="30.28" y="373.35" font-size="11.87" textLength="6.98" lengthAdjust="spacingAndGlyphs">0</text>
<text x="37.85" y="373.35" font-size="11.87" textLength="6.98" lengthAdjust="spacingAndGlyphs">0</text>
<text x="45.42" y="373.35" font-size="11.87" textLength="6.98" lengthAdjust="spacingAndGlyphs">0</text>
<text x="18.93" y="344.85" font-size="11.87" textLength="6.98" lengthAdjust="spacingAndGlyphs">0</text>
<text x="26.32" y="344.85" font-size="11.87" textLength="3.55" lengthAdjust="spacingAndGlyphs">.</text>
<text x="30.28" y="344.85" font-size="11.87" textLength="6.98" lengthAdjust="spacingAndGlyphs">0</text>
<text x="37.82" y="344.85" font-size="11.87" textLength="6.72" lengthAdjust="spacingAndGlyphs">2</text>
<text x="45.57" y="344.85" font-size="11.87" textLength="6.59" lengthAdjust="spacingAndGlyphs">5</text>
<text x="18.93" y="316.35" font-size="11.87" textLength="6.98" lengthAdjust="spacingAndGlyphs">0</text>
<text x="26.32" y="316.35" font-size="11.87" textLength="3.55" lengthAdjust="spacingAndGlyphs">.</text>
<text x="30.28" y="316.35" font-size="11.87" textLength="6.98" lengthAdjust="spacingAndGlyphs">0</text>
<text x="38" y="316.35" font-size="11.87" textLength="6.59" lengthAdjust="spacingAndGlyphs">5</text>
<text x="45.42" y="316.35" font-size="11.87" textLength="6.98" lengthAdjust="spacingAndGlyphs">0</text>
<text x="18.93" y="287.85" font-size="11.87" textLength="6.98" lengthAdjust="spacingAndGlyphs">0</text>
<text x="26.32" y="287.85" font-size="11.87" textLength="3.55" lengthAdjust="spacingAndGlyphs">.</text>
<text x="30.28" y="287.85" font-size="11.87" textLength="6.98" lengthAdjust="spacingAndGlyphs">0</text>
<text x="37.91" y="287.85" font-size="11.87" textLength="6.82" lengthAdjust="spacingAndGlyphs">7</text>
<text x="45.57" y="287.85" font-size="11.87" textLength="6.59" lengthAdjust="spacingAndGlyphs">5</text>
<text x="89.63" y="404.45" font-size="14.31" textLength="3.25" lengthAdjust="spacingAndGlyphs">l</text>
<text x="93.39" y="404.45" font-size="14.31" textLength="8.46" lengthAdjust="spacingAndGlyphs">o</text>
<text x="102.12" y="404.45" font-size="14.31" textLength="8.64" lengthAdjust="spacingAndGlyphs">g</text>
<text x="111.24" y="404.45" font-size="14.31" textLength="4.13" lengthAdjust="spacingAndGlyphs">[</text>
<text x="116.88" y="404.45" font-size="14.31" textLength="10.27" lengthAdjust="spacingAndGlyphs">H</text>
<text x="127.72" y="404.45" font-size="14.31" textLength="8.08" lengthAdjust="spacingAndGlyphs">2</text>
<text x="136.63" y="404.45" font-size="14.31" textLength="10.99" lengthAdjust="spacingAndGlyphs">O</text>
<text x="149.02" y="404.45" font-size="14.31" textLength="4.13" lengthAdjust="spacingAndGlyphs">]</text>
<text x="93.46" y="421.2" font-size="14.31" textLength="9.27" lengthAdjust="spacingAndGlyphs">B</text>
<text x="103.33" y="421.2" font-size="14.31" textLength="7.15" lengthAdjust="spacingAndGlyphs">a</text>
<text x="112.16" y="421.2" font-size="14.31" textLength="6.85" lengthAdjust="spacingAndGlyphs">s</text>
<text x="119.54" y="421.2" font-size="14.31" textLength="7.15" lengthAdjust="spacingAndGlyphs">a</text>
<text x="128.35" y="421.2" font-size="14.31" textLength="3.25" lengthAdjust="spacingAndGlyphs">l</text>
<text x="132.06" y="421.2" font-size="14.31" textLength="5.29" lengthAdjust="spacingAndGlyphs">t</text>
<text x="137.93" y="421.2" font-size="14.31" textLength="3.25" lengthAdjust="spacingAndGlyphs">i</text>
<text x="141.72" y="421.2" font-size="14.31" textLength="7.17" lengthAdjust="spacingAndGlyphs">c</text>
<rect class="g" x="85.72" y="256.3" width="8.89" height="1.15"/>
<text x="96.46" y="261.2" font-size="14.63" textLength="8.32" lengthAdjust="spacingAndGlyphs">4</text>
<text x="105.28" y="261.2" font-size="14.63" textLength="4.23" lengthAdjust="spacingAndGlyphs">.</text>
<text x="110.01" y="261.2" font-size="14.63" textLength="8.33" lengthAdjust="spacingAndGlyphs">0</text>
<text x="119.11" y="261.2" font-size="14.63" textLength="8.14" lengthAdjust="spacingAndGlyphs">7</text>
<rect class="g" x="129.38" y="251.79" width="6.22" height="0.8"/>
<rect class="g" x="132.08" y="249.18" width="0.83" height="6.02"/>
<text x="136.88" y="255.2" font-size="10.2" textLength="5.61" lengthAdjust="spacingAndGlyphs">2</text>
<text x="143.07" y="255.2" font-size="10.2" textLength="2.96" lengthAdjust="spacingAndGlyphs">.</text>
<text x="146.51" y="255.2" font-size="10.2" textLength="5.5" lengthAdjust="spacingAndGlyphs">5</text>
<text x="152.61" y="255.2" font-size="10.2" textLength="6.03" lengthAdjust="spacingAndGlyphs">6</text>
<rect class="g" x="129.38" y="261.99" width="6.22" height="0.8"/>
<text x="137.03" y="265.4" font-size="10.2" textLength="5.5" lengthAdjust="spacingAndGlyphs">5</text>
<text x="143.07" y="265.4" font-size="10.2" textLength="2.96" lengthAdjust="spacingAndGlyphs">.</text>
<text x="146.47" y="265.4" font-size="10.2" textLength="5.57" lengthAdjust="spacingAndGlyphs">1</text>
<text x="152.71" y="265.4" font-size="10.2" textLength="5.83" lengthAdjust="spacingAndGlyphs">0</text>
<rect class="g" x="235.84" y="382.42" width="7.45" height="0.93"/>
<text x="244.95" y="386.4" font-size="11.87" textLength="6.66" lengthAdjust="spacingAndGlyphs">1</text>
<text x="252.42" y="386.4" font-size="11.87" textLength="6.98" lengthAdjust="spacingAndGlyphs">0</text>
<rect class="g" x="285.08" y="382.42" width="7.45" height="0.93"/>
<text x="294.23" y="386.4" font-size="11.87" textLength="6.59" lengthAdjust="spacingAndGlyphs">5</text>
<text x="334.56" y="386.4" font-size="11.87" textLength="6.98" lengthAdjust="spacingAndGlyphs">0</text>
<text x="188.4" y="373.35" font-size="11.87" textLength="6.98" lengthAdjust="spacingAndGlyphs">0</text>
<text x="195.79" y="373.35" font-size="11.87" textLength="3.55" lengthAdjust="spacingAndGlyphs">.</text>
<text x="199.75" y="373.35" font-size="11.87" textLength="6.98" lengthAdjust="spacingAndGlyphs">0</text>
<text x="207.32" y="373.35" font-size="11.87" textLength="6.98" lengthAdjust="spacingAndGlyphs">0</text>
<text x="188.4" y="342.42" font-size="11.87" textLength="6.98" lengthAdjust="spacingAndGlyphs">0</text>
<text x="195.79" y="342.42" font-size="11.87" textLength="3.55" lengthAdjust="spacingAndGlyphs">.</text>
<text x="199.75" y="342.42" font-size="11.87" textLength="6.98" lengthAdjust="spacingAndGlyphs">0</text>
<text x="207.29" y="342.42" font-size="11.87" textLength="6.72" lengthAdjust="spacingAndGlyphs">2</text>
<text x="188.4" y="311.45" font-size="11.87" textLength="6.98" lengthAdjust="spacingAndGlyphs">0</text>
<text x="195.79" y="311.45" font-size="11.87" textLength="3.55" lengthAdjust="spacingAndGlyphs">.</text>
<text x="199.75" y="311.45" font-size="11.87" textLength="6.98" lengthAdjust="spacingAndGlyphs">0</text>
<text x="207.32" y="311.45" font-size="11.87" textLength="6.97" lengthAdjust="spacingAndGlyphs">4</text>
<text x="188.4" y="280.55" font-size="11.87" textLength="6.98" lengthAdjust="spacingAndGlyphs">0</text>
<text x="195.79" y="280.55" font-size="11.87" textLength="3.55" lengthAdjust="spacingAndGlyphs">.</text>
<text x="199.75" y="280.55" font-size="11.87" textLength="6.98" lengthAdjust="spacingAndGlyphs">0</text>
<text x="207.2" y="280.55" font-size="11.87" textLength="7.22" lengthAdjust="spacingAndGlyphs">6</text>
<text x="251.63" y="404.45" font-size="14.31" textLength="3.25" lengthAdjust="spacingAndGlyphs">l</text>
<text x="255.39" y="404.45" font-size="14.31" textLength="8.46" lengthAdjust="spacingAndGlyphs">o</text>
<text x="264.12" y="404.45" font-size="14.31" textLength="8.64" lengthAdjust="spacingAndGlyphs">g</text>
<text x="273.24" y="404.45" font-size="14.31" textLength="4.13" lengthAdjust="spacingAndGlyphs">[</text>
<text x="278.88" y="404.45" font-size="14.31" textLength="10.27" lengthAdjust="spacingAndGlyphs">H</text>
<text x="289.72" y="404.45" font-size="14.31" textLength="8.08" lengthAdjust="spacingAndGlyphs">2</text>
<text x="298.63" y="404.45" font-size="14.31" textLength="10.99" lengthAdjust="spacingAndGlyphs">O</text>
<text x="311.02" y="404.45" font-size="14.31" textLength="4.13" lengthAdjust="spacingAndGlyphs">]</text>
<text x="247.82" y="421.2" font-size="14.31" textLength="11.88" lengthAdjust="spacingAndGlyphs">M</text>
<text x="260.07" y="421.2" font-size="14.31" textLength="8.58" lengthAdjust="spacingAndGlyphs">e</text>
<text x="268.83" y="421.2" font-size="14.31" textLength="5.29" lengthAdjust="spacingAndGlyphs">t</text>
<text x="274.65" y="421.2" font-size="14.31" textLength="7.15" lengthAdjust="spacingAndGlyphs">a</text>
<text x="283.46" y="421.2" font-size="14.31" textLength="3.25" lengthAdjust="spacingAndGlyphs">l</text>
<text x="287.1" y="421.2" font-size="14.31" textLength="5.11" lengthAdjust="spacingAndGlyphs">-</text>
<text x="292.32" y="421.2" font-size="14.31" textLength="6.1" lengthAdjust="spacingAndGlyphs">r</text>
<text x="298.47" y="421.2" font-size="14.31" textLength="3.25" lengthAdjust="spacingAndGlyphs">i</text>
<text x="302.27" y="421.2" font-size="14.31" textLength="7.17" lengthAdjust="spacingAndGlyphs">c</text>
<text x="310.18" y="421.2" font-size="14.31" textLength="8.63" lengthAdjust="spacingAndGlyphs">h</text>
<rect class="g" x="247.72" y="256.3" width="8.89" height="1.15"/>
<text x="258.64" y="261.2" font-size="14.63" textLength="7.86" lengthAdjust="spacingAndGlyphs">5</text>
<text x="267.28" y="261.2" font-size="14.63" textLength="4.23" lengthAdjust="spacingAndGlyphs">.</text>
<text x="272.19" y="261.2" font-size="14.63" textLength="7.86" lengthAdjust="spacingAndGlyphs">5</text>
<text x="281.23" y="261.2" font-size="14.63" textLength="8" lengthAdjust="spacingAndGlyphs">3</text>
<rect class="g" x="291.38" y="251.79" width="6.22" height="0.8"/>
<rect class="g" x="294.08" y="249.18" width="0.83" height="6.02"/>
<text x="299.03" y="255.2" font-size="10.2" textLength="5.6" lengthAdjust="spacingAndGlyphs">3</text>
<text x="305.07" y="255.2" font-size="10.2" textLength="2.96" lengthAdjust="spacingAndGlyphs">.</text>
<text x="308.39" y="255.2" font-size="10.2" textLength="5.82" lengthAdjust="spacingAndGlyphs">4</text>
<text x="314.84" y="255.2" font-size="10.2" textLength="5.6" lengthAdjust="spacingAndGlyphs">3</text>
<rect class="g" x="291.38" y="261.99" width="6.22" height="0.8"/>
<text x="298.9" y="265.4" font-size="10.2" textLength="5.82" lengthAdjust="spacingAndGlyphs">4</text>
<text x="305.07" y="265.4" font-size="10.2" textLength="2.96" lengthAdjust="spacingAndGlyphs">.</text>
<text x="308.47" y="265.4" font-size="10.2" textLength="5.57" lengthAdjust="spacingAndGlyphs">1</text>
<text x="314.69" y="265.4" font-size="10.2" textLength="5.88" lengthAdjust="spacingAndGlyphs">8</text>
<rect class="g" x="405.72" y="382.42" width="7.45" height="0.93"/>
<text x="414.83" y="386.4" font-size="11.87" textLength="6.66" lengthAdjust="spacingAndGlyphs">1</text>
<text x="422.3" y="386.4" font-size="11.87" textLength="6.98" lengthAdjust="spacingAndGlyphs">0</text>
<rect class="g" x="454.92" y="382.42" width="7.45" height="0.93"/>
<text x="464.08" y="386.4" font-size="11.87" textLength="6.59" lengthAdjust="spacingAndGlyphs">5</text>
<text x="504.36" y="386.4" font-size="11.87" textLength="6.98" lengthAdjust="spacingAndGlyphs">0</text>
<text x="350.73" y="373.35" font-size="11.87" textLength="6.98" lengthAdjust="spacingAndGlyphs">0</text>
<text x="358.12" y="373.35" font-size="11.87" textLength="3.55" lengthAdjust="spacingAndGlyphs">.</text>
<text x="362.08" y="373.35" font-size="11.87" textLength="6.98" lengthAdjust="spacingAndGlyphs">0</text>
<text x="369.65" y="373.35" font-size="11.87" textLength="6.98" lengthAdjust="spacingAndGlyphs">0</text>
<text x="377.22" y="373.35" font-size="11.87" textLength="6.98" lengthAdjust="spacingAndGlyphs">0</text>
<text x="350.73" y="346.05" font-size="11.87" textLength="6.98" lengthAdjust="spacingAndGlyphs">0</text>
<text x="358.12" y="346.05" font-size="11.87" textLength="3.55" lengthAdjust="spacingAndGlyphs">.</text>
<text x="362.08" y="346.05" font-size="11.87" textLength="6.98" lengthAdjust="spacingAndGlyphs">0</text>
<text x="369.62" y="346.05" font-size="11.87" textLength="6.72" lengthAdjust="spacingAndGlyphs">2</text>
<text x="377.37" y="346.05" font-size="11.87" textLength="6.59" lengthAdjust="spacingAndGlyphs">5</text>
<text x="350.73" y="318.75" font-size="11.87" textLength="6.98" lengthAdjust="spacingAndGlyphs">0</text>
<text x="358.12" y="318.75" font-size="11.87" textLength="3.55" lengthAdjust="spacingAndGlyphs">.</text>
<text x="362.08" y="318.75" font-size="11.87" textLength="6.98" lengthAdjust="spacingAndGlyphs">0</text>
<text x="369.8" y="318.75" font-size="11.87" textLength="6.59" lengthAdjust="spacingAndGlyphs">5</text>
<text x="377.22" y="318.75" font-size="11.87" textLength="6.98" lengthAdjust="spacingAndGlyphs">0</text>
<text x="350.73" y="291.45" font-size="11.87" textLength="6.98" lengthAdjust="spacingAndGlyphs">0</text>
<text x="358.12" y="291.45" font-size="11.87" textLength="3.55" lengthAdjust="spacingAndGlyphs">.</text>
<text x="362.08" y="291.45" font-size="11.87" textLength="6.98" lengthAdjust="spacingAndGlyphs">0</text>
<text x="369.71" y="291.45" font-size="11.87" textLength="6.82" lengthAdjust="spacingAndGlyphs">7</text>
<text x="377.37" y="291.45" font-size="11.87" textLength="6.59" lengthAdjust="spacingAndGlyphs">5</text>
<text x="421.48" y="404.45" font-size="14.31" textLength="3.25" lengthAdjust="spacingAndGlyphs">l</text>
<text x="425.24" y="404.45" font-size="14.31" textLength="8.46" lengthAdjust="spacingAndGlyphs">o</text>
<text x="433.97" y="404.45" font-size="14.31" textLength="8.64" lengthAdjust="spacingAndGlyphs">g</text>
<text x="443.09" y="404.45" font-size="14.31" textLength="4.13" lengthAdjust="spacingAndGlyphs">[</text>
<text x="448.73" y="404.45" font-size="14.31" textLength="10.27" lengthAdjust="spacingAndGlyphs">H</text>
<text x="459.57" y="404.45" font-size="14.31" textLength="8.08" lengthAdjust="spacingAndGlyphs">2</text>
<text x="468.48" y="404.45" font-size="14.31" textLength="10.99" lengthAdjust="spacingAndGlyphs">O</text>
<text x="480.87" y="404.45" font-size="14.31" textLength="4.13" lengthAdjust="spacingAndGlyphs">]</text>
<text x="413.13" y="421.2" font-size="14.31" textLength="7.48" lengthAdjust="spacingAndGlyphs">F</text>
<text x="421.09" y="421.2" font-size="14.31" textLength="8.58" lengthAdjust="spacingAndGlyphs">e</text>
<text x="429" y="421.2" font-size="14.31" textLength="5.11" lengthAdjust="spacingAndGlyphs">-</text>
<text x="434.28" y="421.2" font-size="14.31" textLength="8.46" lengthAdjust="spacingAndGlyphs">o</text>
<text x="443.37" y="421.2" font-size="14.31" textLength="7.94" lengthAdjust="spacingAndGlyphs">x</text>
<text x="451.53" y="421.2" font-size="14.31" textLength="3.25" lengthAdjust="spacingAndGlyphs">i</text>
<text x="455.27" y="421.2" font-size="14.31" textLength="8.64" lengthAdjust="spacingAndGlyphs">d</text>
<text x="464.58" y="421.2" font-size="14.31" textLength="3.25" lengthAdjust="spacingAndGlyphs">i</text>
<text x="468.18" y="421.2" font-size="14.31" textLength="7.67" lengthAdjust="spacingAndGlyphs">z</text>
<text x="475.83" y="421.2" font-size="14.31" textLength="8.58" lengthAdjust="spacingAndGlyphs">e</text>
<text x="484.63" y="421.2" font-size="14.31" textLength="8.64" lengthAdjust="spacingAndGlyphs">d</text>
<rect class="g" x="417.57" y="256.3" width="8.89" height="1.15"/>
<text x="428.49" y="261.2" font-size="14.63" textLength="8" lengthAdjust="spacingAndGlyphs">3</text>
<text x="437.13" y="261.2" font-size="14.63" textLength="4.23" lengthAdjust="spacingAndGlyphs">.</text>
<text x="442.04" y="261.2" font-size="14.63" textLength="7.86" lengthAdjust="spacingAndGlyphs">5</text>
<text x="450.89" y="261.2" font-size="14.63" textLength="8.32" lengthAdjust="spacingAndGlyphs">4</text>
<rect class="g" x="461.23" y="251.79" width="6.22" height="0.8"/>
<rect class="g" x="463.93" y="249.18" width="0.83" height="6.02"/>
<text x="468.73" y="255.2" font-size="10.2" textLength="5.61" lengthAdjust="spacingAndGlyphs">2</text>
<text x="474.92" y="255.2" font-size="10.2" textLength="2.96" lengthAdjust="spacingAndGlyphs">.</text>
<text x="478.21" y="255.2" font-size="10.2" textLength="5.61" lengthAdjust="spacingAndGlyphs">2</text>
<text x="484.65" y="255.2" font-size="10.2" textLength="5.57" lengthAdjust="spacingAndGlyphs">1</text>
<rect class="g" x="461.23" y="261.99" width="6.22" height="0.8"/>
<text x="468.75" y="265.4" font-size="10.2" textLength="5.82" lengthAdjust="spacingAndGlyphs">4</text>
<text x="474.92" y="265.4" font-size="10.2" textLength="2.96" lengthAdjust="spacingAndGlyphs">.</text>
<text x="478.24" y="265.4" font-size="10.2" textLength="5.82" lengthAdjust="spacingAndGlyphs">4</text>
<text x="484.53" y="265.4" font-size="10.2" textLength="5.61" lengthAdjust="spacingAndGlyphs">2</text>
<rect class="g" x="575.32" y="382.42" width="7.45" height="0.93"/>
<text x="584.43" y="386.4" font-size="11.87" textLength="6.66" lengthAdjust="spacingAndGlyphs">1</text>
<text x="591.9" y="386.4" font-size="11.87" textLength="6.98" lengthAdjust="spacingAndGlyphs">0</text>
<rect class="g" x="624.43" y="382.42" width="7.45" height="0.93"/>
<text x="633.58" y="386.4" font-size="11.87" textLength="6.59" lengthAdjust="spacingAndGlyphs">5</text>
<text x="673.77" y="386.4" font-size="11.87" textLength="6.98" lengthAdjust="spacingAndGlyphs">0</text>
<text x="520.38" y="373.35" font-size="11.87" textLength="6.98" lengthAdjust="spacingAndGlyphs">0</text>
<text x="527.77" y="373.35" font-size="11.87" textLength="3.55" lengthAdjust="spacingAndGlyphs">.</text>
<text x="531.73" y="373.35" font-size="11.87" textLength="6.98" lengthAdjust="spacingAndGlyphs">0</text>
<text x="539.3" y="373.35" font-size="11.87" textLength="6.98" lengthAdjust="spacingAndGlyphs">0</text>
<text x="546.87" y="373.35" font-size="11.87" textLength="6.98" lengthAdjust="spacingAndGlyphs">0</text>
<text x="520.38" y="342.65" font-size="11.87" textLength="6.98" lengthAdjust="spacingAndGlyphs">0</text>
<text x="527.77" y="342.65" font-size="11.87" textLength="3.55" lengthAdjust="spacingAndGlyphs">.</text>
<text x="531.73" y="342.65" font-size="11.87" textLength="6.98" lengthAdjust="spacingAndGlyphs">0</text>
<text x="539.27" y="342.65" font-size="11.87" textLength="6.72" lengthAdjust="spacingAndGlyphs">2</text>
<text x="547.02" y="342.65" font-size="11.87" textLength="6.59" lengthAdjust="spacingAndGlyphs">5</text>
<text x="520.38" y="312.05" font-size="11.87" textLength="6.98" lengthAdjust="spacingAndGlyphs">0</text>
<text x="527.77" y="312.05" font-size="11.87" textLength="3.55" lengthAdjust="spacingAndGlyphs">.</text>
<text x="531.73" y="312.05" font-size="11.87" textLength="6.98" lengthAdjust="spacingAndGlyphs">0</text>
<text x="539.45" y="312.05" font-size="11.87" textLength="6.59" lengthAdjust="spacingAndGlyphs">5</text>
<text x="546.87" y="312.05" font-size="11.87" textLength="6.98" lengthAdjust="spacingAndGlyphs">0</text>
<text x="520.38" y="281.35" font-size="11.87" textLength="6.98" lengthAdjust="spacingAndGlyphs">0</text>
<text x="527.77" y="281.35" font-size="11.87" textLength="3.55" lengthAdjust="spacingAndGlyphs">.</text>
<text x="531.73" y="281.35" font-size="11.87" textLength="6.98" lengthAdjust="spacingAndGlyphs">0</text>
<text x="539.36" y="281.35" font-size="11.87" textLength="6.82" lengthAdjust="spacingAndGlyphs">7</text>
<text x="547.02" y="281.35" font-size="11.87" textLength="6.59" lengthAdjust="spacingAndGlyphs">5</text>
<text x="591.01" y="404.45" font-size="14.31" textLength="3.25" lengthAdjust="spacingAndGlyphs">l</text>
<text x="594.76" y="404.45" font-size="14.31" textLength="8.46" lengthAdjust="spacingAndGlyphs">o</text>
<text x="603.5" y="404.45" font-size="14.31" textLength="8.64" lengthAdjust="spacingAndGlyphs">g</text>
<text x="612.62" y="404.45" font-size="14.31" textLength="4.13" lengthAdjust="spacingAndGlyphs">[</text>
<text x="618.26" y="404.45" font-size="14.31" textLength="10.27" lengthAdjust="spacingAndGlyphs">H</text>
<text x="629.09" y="404.45" font-size="14.31" textLength="8.08" lengthAdjust="spacingAndGlyphs">2</text>
<text x="638.01" y="404.45" font-size="14.31" textLength="10.99" lengthAdjust="spacingAndGlyphs">O</text>
<text x="650.4" y="404.45" font-size="14.31" textLength="4.13" lengthAdjust="spacingAndGlyphs">]</text>
<text x="585.71" y="421.2" font-size="14.31" textLength="10.15" lengthAdjust="spacingAndGlyphs">U</text>
<text x="596.38" y="421.2" font-size="14.31" textLength="3.25" lengthAdjust="spacingAndGlyphs">l</text>
<text x="600.09" y="421.2" font-size="14.31" textLength="5.29" lengthAdjust="spacingAndGlyphs">t</text>
<text x="605.69" y="421.2" font-size="14.31" textLength="6.1" lengthAdjust="spacingAndGlyphs">r</text>
<text x="611.79" y="421.2" font-size="14.31" textLength="7.15" lengthAdjust="spacingAndGlyphs">a</text>
<text x="620.46" y="421.2" font-size="14.31" textLength="13.56" lengthAdjust="spacingAndGlyphs">m</text>
<text x="634.49" y="421.2" font-size="14.31" textLength="7.15" lengthAdjust="spacingAndGlyphs">a</text>
<text x="643" y="421.2" font-size="14.31" textLength="5.22" lengthAdjust="spacingAndGlyphs">f</text>
<text x="648.33" y="421.2" font-size="14.31" textLength="3.25" lengthAdjust="spacingAndGlyphs">i</text>
<text x="652.12" y="421.2" font-size="14.31" textLength="7.17" lengthAdjust="spacingAndGlyphs">c</text>
<rect class="g" x="587.09" y="256.3" width="8.89" height="1.15"/>
<text x="597.84" y="261.2" font-size="14.63" textLength="8.32" lengthAdjust="spacingAndGlyphs">4</text>
<text x="606.65" y="261.2" font-size="14.63" textLength="4.23" lengthAdjust="spacingAndGlyphs">.</text>
<text x="611.39" y="261.2" font-size="14.63" textLength="8.33" lengthAdjust="spacingAndGlyphs">0</text>
<text x="620.6" y="261.2" font-size="14.63" textLength="7.86" lengthAdjust="spacingAndGlyphs">5</text>
<rect class="g" x="630.76" y="251.79" width="6.22" height="0.8"/>
<rect class="g" x="633.45" y="249.18" width="0.83" height="6.02"/>
<text x="638.25" y="255.2" font-size="10.2" textLength="5.61" lengthAdjust="spacingAndGlyphs">2</text>
<text x="644.45" y="255.2" font-size="10.2" textLength="2.96" lengthAdjust="spacingAndGlyphs">.</text>
<text x="647.76" y="255.2" font-size="10.2" textLength="5.82" lengthAdjust="spacingAndGlyphs">4</text>
<text x="653.96" y="255.2" font-size="10.2" textLength="6.02" lengthAdjust="spacingAndGlyphs">9</text>
<rect class="g" x="630.76" y="261.99" width="6.22" height="0.8"/>
<text x="638.28" y="265.4" font-size="10.2" textLength="5.82" lengthAdjust="spacingAndGlyphs">4</text>
<text x="644.45" y="265.4" font-size="10.2" textLength="2.96" lengthAdjust="spacingAndGlyphs">.</text>
<text x="647.74" y="265.4" font-size="10.2" textLength="5.88" lengthAdjust="spacingAndGlyphs">8</text>
<text x="654.21" y="265.4" font-size="10.2" textLength="5.5" lengthAdjust="spacingAndGlyphs">5</text>
<text x="192.95" y="17.9" font-size="24.8" textLength="16.06" lengthAdjust="spacingAndGlyphs">A</text>
<text x="209.33" y="17.9" font-size="24.8" textLength="8.85" lengthAdjust="spacingAndGlyphs">t</text>
<text x="218.49" y="17.9" font-size="24.8" textLength="22.67" lengthAdjust="spacingAndGlyphs">m</text>
<text x="241.65" y="17.9" font-size="24.8" textLength="14.14" lengthAdjust="spacingAndGlyphs">o</text>
<text x="256.67" y="17.9" font-size="24.8" textLength="11.46" lengthAdjust="spacingAndGlyphs">s</text>
<text x="268.99" y="17.9" font-size="24.8" textLength="14.45" lengthAdjust="spacingAndGlyphs">p</text>
<text x="284.04" y="17.9" font-size="24.8" textLength="14.43" lengthAdjust="spacingAndGlyphs">h</text>
<text x="299.04" y="17.9" font-size="24.8" textLength="14.34" lengthAdjust="spacingAndGlyphs">e</text>
<text x="313.67" y="17.9" font-size="24.8" textLength="10.19" lengthAdjust="spacingAndGlyphs">r</text>
<text x="323.57" y="17.9" font-size="24.8" textLength="14.34" lengthAdjust="spacingAndGlyphs">e</text>
<text x="345.37" y="17.9" font-size="24.8" textLength="14.14" lengthAdjust="spacingAndGlyphs">o</text>
<text x="360.22" y="17.9" font-size="24.8" textLength="14.33" lengthAdjust="spacingAndGlyphs">n</text>
<text x="375.51" y="17.9" font-size="24.8" textLength="5.43" lengthAdjust="spacingAndGlyphs">l</text>
<text x="382.18" y="17.9" font-size="24.8" textLength="12.85" lengthAdjust="spacingAndGlyphs">y</text>
<text x="403.66" y="17.9" font-size="24.8" textLength="22.67" lengthAdjust="spacingAndGlyphs">m</text>
<text x="426.82" y="17.9" font-size="24.8" textLength="14.14" lengthAdjust="spacingAndGlyphs">o</text>
<text x="441.42" y="17.9" font-size="24.8" textLength="14.45" lengthAdjust="spacingAndGlyphs">d</text>
<text x="456.6" y="17.9" font-size="24.8" textLength="14.34" lengthAdjust="spacingAndGlyphs">e</text>
<text x="471.68" y="17.9" font-size="24.8" textLength="5.43" lengthAdjust="spacingAndGlyphs">l</text>
<text x="478.37" y="17.9" font-size="24.8" textLength="11.46" lengthAdjust="spacingAndGlyphs">s</text>
<text x="219.62" y="236" font-size="24.8" textLength="14.26" lengthAdjust="spacingAndGlyphs">S</text>
<text x="234.58" y="236" font-size="24.8" textLength="14.36" lengthAdjust="spacingAndGlyphs">u</text>
<text x="249.57" y="236" font-size="24.8" textLength="10.21" lengthAdjust="spacingAndGlyphs">r</text>
<text x="259.37" y="236" font-size="24.8" textLength="8.74" lengthAdjust="spacingAndGlyphs">f</text>
<text x="268.23" y="236" font-size="24.8" textLength="11.98" lengthAdjust="spacingAndGlyphs">a</text>
<text x="282.68" y="236" font-size="24.8" textLength="12.01" lengthAdjust="spacingAndGlyphs">c</text>
<text x="295.78" y="236" font-size="24.8" textLength="14.37" lengthAdjust="spacingAndGlyphs">e</text>
<text x="318.15" y="236" font-size="24.8" textLength="14.17" lengthAdjust="spacingAndGlyphs">o</text>
<text x="333.04" y="236" font-size="24.8" textLength="14.36" lengthAdjust="spacingAndGlyphs">n</text>
<text x="348.35" y="236" font-size="24.8" textLength="5.44" lengthAdjust="spacingAndGlyphs">l</text>
<text x="355.04" y="236" font-size="24.8" textLength="12.87" lengthAdjust="spacingAndGlyphs">y</text>
<text x="376.57" y="236" font-size="24.8" textLength="22.72" lengthAdjust="spacingAndGlyphs">m</text>
<text x="399.78" y="236" font-size="24.8" textLength="14.17" lengthAdjust="spacingAndGlyphs">o</text>
<text x="414.41" y="236" font-size="24.8" textLength="14.48" lengthAdjust="spacingAndGlyphs">d</text>
<text x="429.63" y="236" font-size="24.8" textLength="14.37" lengthAdjust="spacingAndGlyphs">e</text>
<text x="444.75" y="236" font-size="24.8" textLength="5.44" lengthAdjust="spacingAndGlyphs">l</text>
<text x="451.44" y="236" font-size="24.8" textLength="11.48" lengthAdjust="spacingAndGlyphs">s</text>
<g transform="translate(11.2 99) rotate(-90) translate(-99 0)"><text x="71.59" y="0" font-size="14.8" textLength="10.67" lengthAdjust="spacingAndGlyphs">D</text><text x="82.52" y="0" font-size="14.8" textLength="8.56" lengthAdjust="spacingAndGlyphs">e</text><text x="91.44" y="0" font-size="14.8" textLength="8.55" lengthAdjust="spacingAndGlyphs">n</text><text x="100.59" y="0" font-size="14.8" textLength="6.84" lengthAdjust="spacingAndGlyphs">s</text><text x="107.99" y="0" font-size="14.8" textLength="3.24" lengthAdjust="spacingAndGlyphs">i</text><text x="111.69" y="0" font-size="14.8" textLength="5.28" lengthAdjust="spacingAndGlyphs">t</text><text x="117.57" y="0" font-size="14.8" textLength="7.66" lengthAdjust="spacingAndGlyphs">y</text></g>
<g transform="translate(11.2 319) rotate(-90) translate(-319 0)"><text x="291.59" y="0" font-size="14.8" textLength="10.67" lengthAdjust="spacingAndGlyphs">D</text><text x="302.52" y="0" font-size="14.8" textLength="8.56" lengthAdjust="spacingAndGlyphs">e</text><text x="311.44" y="0" font-size="14.8" textLength="8.55" lengthAdjust="spacingAndGlyphs">n</text><text x="320.59" y="0" font-size="14.8" textLength="6.84" lengthAdjust="spacingAndGlyphs">s</text><text x="327.99" y="0" font-size="14.8" textLength="3.24" lengthAdjust="spacingAndGlyphs">i</text><text x="331.69" y="0" font-size="14.8" textLength="5.28" lengthAdjust="spacingAndGlyphs">t</text><text x="337.57" y="0" font-size="14.8" textLength="7.66" lengthAdjust="spacingAndGlyphs">y</text></g>
</svg>
</body></html>
